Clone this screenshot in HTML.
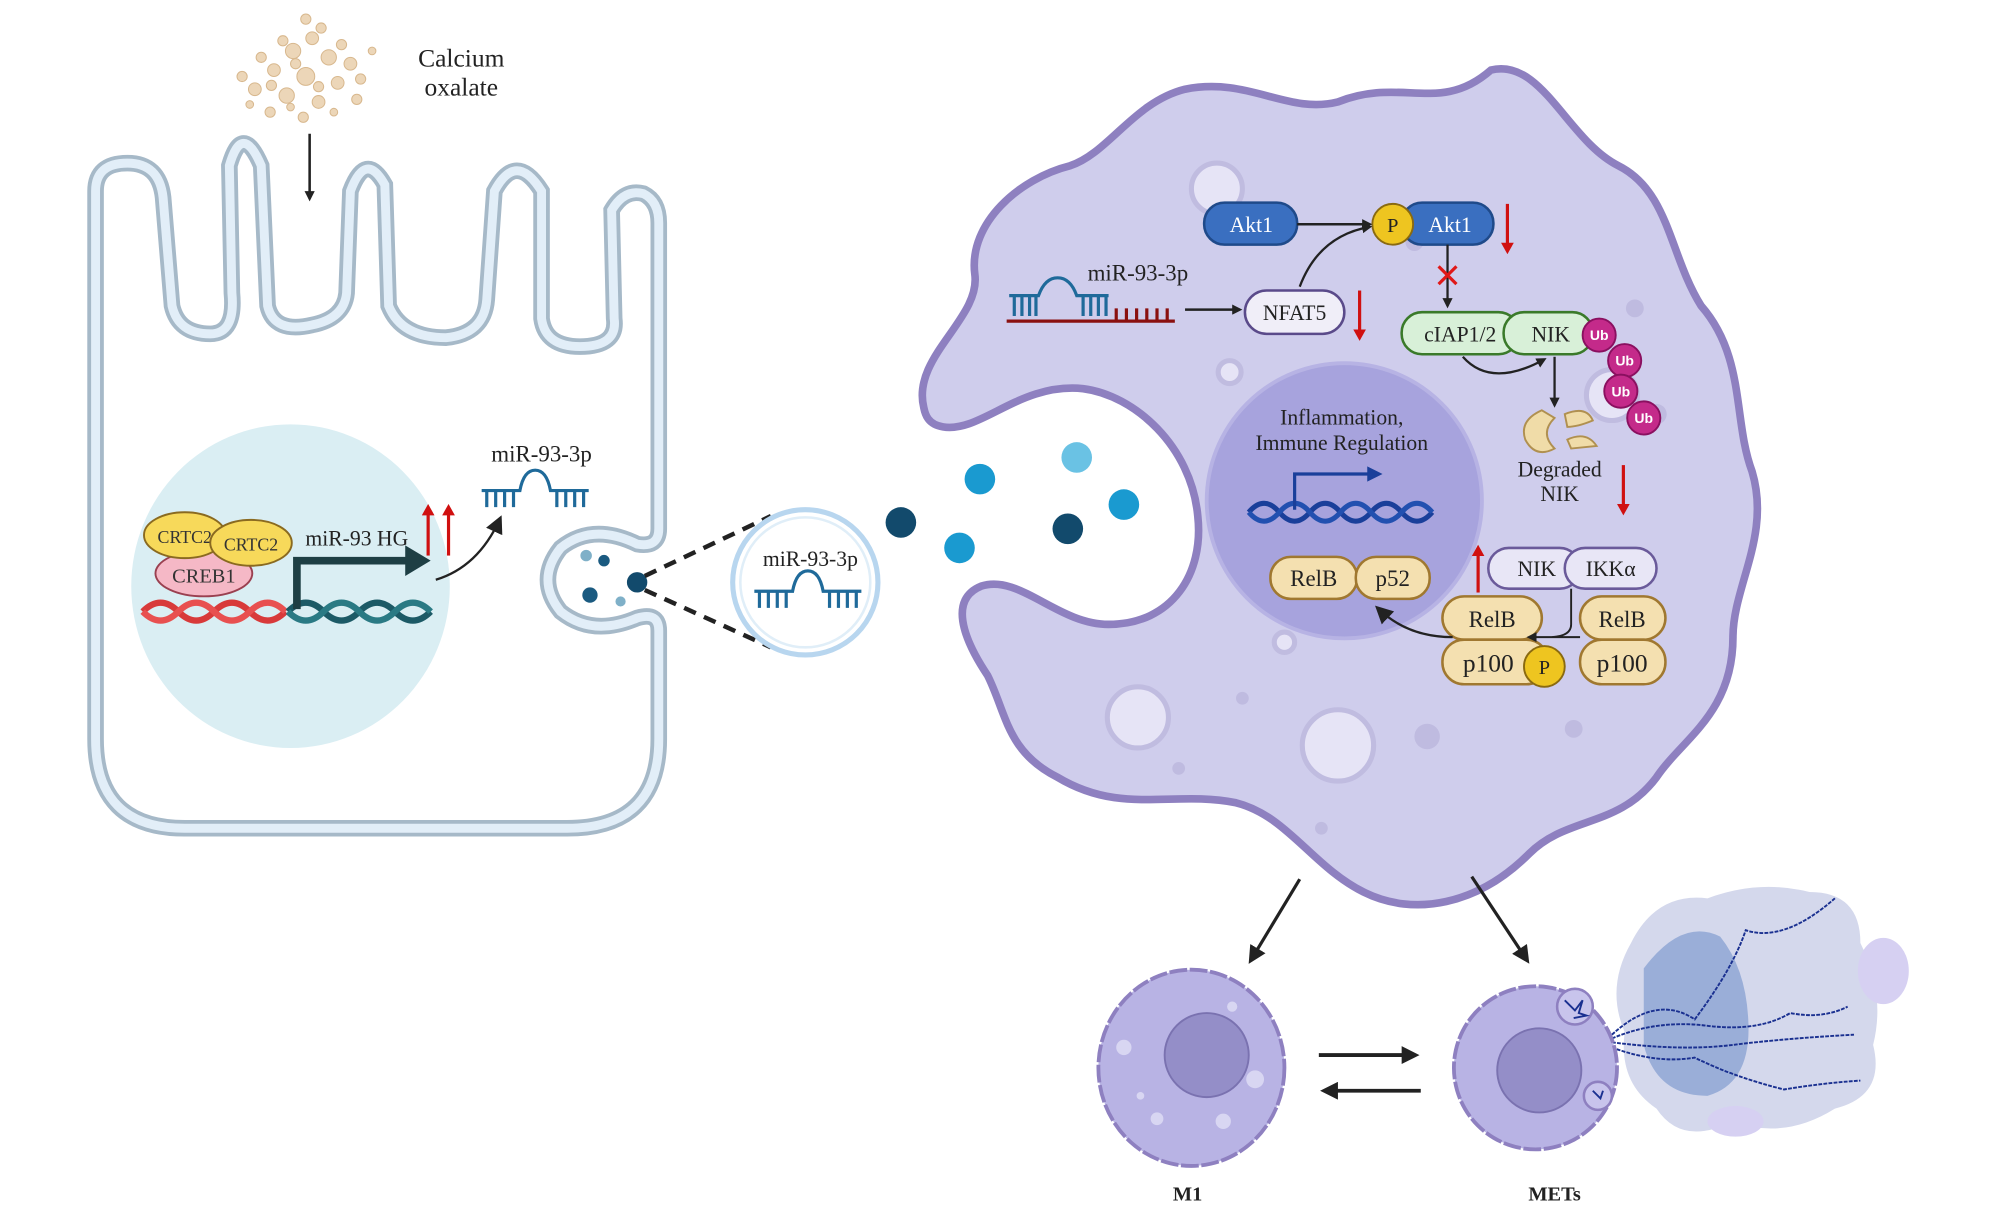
<!DOCTYPE html>
<html><head><meta charset="utf-8"><style>
html,body{margin:0;padding:0;background:#fff;}
svg{display:block;}
text{font-family:"Liberation Serif",serif;}
</style></head><body>
<svg width="1998" height="1222" viewBox="0 0 1568 959" xmlns="http://www.w3.org/2000/svg">
<defs>
<marker id="ah" markerWidth="8" markerHeight="8" refX="6" refY="4" orient="auto" markerUnits="userSpaceOnUse"><path d="M0,0 L8,4 L0,8 Z" fill="#222"/></marker>
<marker id="ahb" markerWidth="14" markerHeight="14" refX="10" refY="7" orient="auto" markerUnits="userSpaceOnUse"><path d="M0,0 L14,7 L0,14 Z" fill="#222"/></marker>
<marker id="ahr" markerWidth="9" markerHeight="10" refX="4.5" refY="5" orient="auto" markerUnits="userSpaceOnUse"><path d="M0,0 L9,5 L0,10 Z" fill="#d01010"/></marker>
<g id="hp" stroke="#1f6a9a" stroke-width="2.5" fill="none">
<path d="M0,0 H30 Q33,-16 42,-16 Q51,-16 54,0 H84"/>
<path d="M4,0 V13 M11,0 V13 M18,0 V13 M25,0 V13 M59,0 V13 M66,0 V13 M73,0 V13 M80,0 V13"/>
</g>
<path id="ep" d="M75,580 L75,150 Q75,128 100,128 Q125,128 128,155 L135,240 Q140,262 165,262 Q185,262 182,230 L180,130 Q190,95 205,130 L210,240 Q215,262 245,255 Q270,250 272,230 L275,150 Q287,118 302,145 L305,240 Q315,265 350,265 Q380,262 382,235 L388,150 Q405,118 425,150 L425,250 Q428,272 455,272 Q485,272 482,250 L480,165 Q490,148 505,152 Q517,158 517,175 L517,415 Q517,430 500,427 Q465,410 440,430 Q420,455 440,480 Q465,500 500,485 Q517,480 517,495 L517,580 Q517,650 445,650 L145,650 Q75,650 75,580 Z"/>
</defs>

<!-- calcium oxalate -->
<g fill="#ecd6b8" stroke="#d8b88e" stroke-width="0.8">
<circle cx="230" cy="40" r="6"/><circle cx="245" cy="30" r="5"/><circle cx="258" cy="45" r="6"/><circle cx="215" cy="55" r="5"/><circle cx="240" cy="60" r="7"/><circle cx="265" cy="65" r="5"/><circle cx="200" cy="70" r="5"/><circle cx="225" cy="75" r="6"/><circle cx="250" cy="80" r="5"/><circle cx="275" cy="50" r="5"/><circle cx="240" cy="15" r="4"/><circle cx="190" cy="60" r="4"/><circle cx="280" cy="78" r="4"/><circle cx="212" cy="88" r="4"/><circle cx="238" cy="92" r="4"/><circle cx="292" cy="40" r="3"/>
<circle cx="222" cy="32" r="4"/><circle cx="252" cy="22" r="4"/><circle cx="268" cy="35" r="4"/><circle cx="205" cy="45" r="4"/><circle cx="232" cy="50" r="4"/><circle cx="250" cy="68" r="4"/><circle cx="213" cy="67" r="4"/><circle cx="262" cy="88" r="3"/><circle cx="196" cy="82" r="3"/><circle cx="283" cy="62" r="4"/><circle cx="228" cy="84" r="3"/>
</g>
<text x="362" y="52" font-size="20" text-anchor="middle" fill="#222">Calcium</text>
<text x="362" y="75" font-size="20" text-anchor="middle" fill="#222">oxalate</text>
<line x1="243" y1="105" x2="243" y2="156" stroke="#222" stroke-width="2" marker-end="url(#ah)"/>

<!-- epithelial cell -->
<use href="#ep" fill="#fff" stroke="#a6b9c8" stroke-width="13"/>
<use href="#ep" fill="none" stroke="#e2eef8" stroke-width="7"/>

<!-- nucleus -->
<ellipse cx="228" cy="460" rx="125" ry="127" fill="#daeef3"/>
<path d="M112,480 q14,-14 28,0 t28,0 t28,0 t28,0" stroke="#d83a3a" stroke-width="5" fill="none"/>
<path d="M112,480 q14,14 28,0 t28,0 t28,0 t28,0" stroke="#e85050" stroke-width="5" fill="none"/>
<path d="M226,480 q14,-14 28,0 t28,0 t28,0 t28,0" stroke="#1c5a66" stroke-width="5" fill="none"/>
<path d="M226,480 q14,14 28,0 t28,0 t28,0 t28,0" stroke="#2a7a84" stroke-width="5" fill="none"/>
<path d="M233,478 V440 H320" stroke="#1e3f44" stroke-width="6" fill="none"/>
<path d="M318,428 L338,440 L318,452 Z" fill="#1e3f44"/>
<ellipse cx="160" cy="450" rx="38" ry="18" fill="#f5b8c6" stroke="#9a4050" stroke-width="1.5"/>
<text x="160" y="457" font-size="16" text-anchor="middle" fill="#333">CREB1</text>
<ellipse cx="145" cy="420" rx="32" ry="18" fill="#f7d95a" stroke="#8a6a20" stroke-width="1.5"/>
<text x="145" y="426" font-size="14" text-anchor="middle" fill="#333">CRTC2</text>
<ellipse cx="197" cy="426" rx="32" ry="18" fill="#f7d95a" stroke="#8a6a20" stroke-width="1.5"/>
<text x="197" y="432" font-size="14" text-anchor="middle" fill="#333">CRTC2</text>
<text x="280" y="428" font-size="17" text-anchor="middle" fill="#222">miR-93 HG</text>
<line x1="336" y1="436" x2="336" y2="400" stroke="#d01010" stroke-width="2.5" marker-end="url(#ahr)"/>
<line x1="352" y1="436" x2="352" y2="400" stroke="#d01010" stroke-width="2.5" marker-end="url(#ahr)"/>
<path d="M342,455 Q375,445 392,408" stroke="#222" stroke-width="1.8" fill="none" marker-end="url(#ahb)"/>
<text x="425" y="362" font-size="18" text-anchor="middle" fill="#222">miR-93-3p</text>
<use href="#hp" x="378" y="385"/>

<!-- bud dots -->
<circle cx="460" cy="436" r="4.5" fill="#7fb0c8"/><circle cx="474" cy="440" r="4.5" fill="#1a5a80"/><circle cx="463" cy="467" r="6" fill="#1a5a80"/><circle cx="487" cy="472" r="4" fill="#7fb0c8"/><circle cx="500" cy="457" r="8" fill="#124a6c"/>
<line x1="506" y1="452" x2="605" y2="405" stroke="#222" stroke-width="3.5" stroke-dasharray="10,7"/>
<line x1="506" y1="463" x2="605" y2="508" stroke="#222" stroke-width="3.5" stroke-dasharray="10,7"/>
<circle cx="632" cy="457" r="57" fill="#fff" stroke="#b8d6ef" stroke-width="4"/>
<circle cx="632" cy="457" r="51" fill="none" stroke="#e0eef8" stroke-width="2"/>
<text x="636" y="444" font-size="17" text-anchor="middle" fill="#222">miR-93-3p</text>
<use href="#hp" x="592" y="464"/>

<!-- macrophage -->
<path d="M725,320 C715,280 770,250 765,215 C760,175 800,140 840,130 C870,120 890,80 930,70 C980,60 1010,90 1050,80 C1100,60 1130,90 1170,55 C1210,45 1230,110 1270,130 C1310,150 1310,200 1335,240 C1370,280 1360,330 1375,370 C1390,420 1360,460 1360,500 C1360,560 1320,580 1300,610 C1270,650 1230,640 1200,670 C1160,710 1110,720 1070,700 C1030,680 1010,640 970,630 C920,620 880,640 830,610 C790,590 790,560 775,530 C755,500 745,470 770,460 C800,450 830,490 870,490 C920,490 945,450 940,405 C935,350 890,310 850,305 C800,300 770,340 740,335 C728,333 726,325 725,320 Z" fill="#cfcdec" stroke="#8e80c0" stroke-width="6"/>
<g fill="#e6e4f6" stroke="#c0bce0" stroke-width="4">
<circle cx="955" cy="148" r="20"/><circle cx="965" cy="292" r="9"/><circle cx="893" cy="563" r="24"/><circle cx="1050" cy="585" r="28"/><circle cx="1008" cy="504" r="8"/><circle cx="1265" cy="310" r="20"/></g>
<g fill="#bfbbe0"><circle cx="1118" cy="378" r="6"/><circle cx="975" cy="548" r="5"/><circle cx="1120" cy="578" r="10"/><circle cx="1235" cy="572" r="7"/><circle cx="1283" cy="242" r="7"/><circle cx="1300" cy="325" r="8"/><circle cx="1037" cy="650" r="5"/><circle cx="925" cy="603" r="5"/><circle cx="1110" cy="190" r="7"/></g>
<!-- outside dots -->
<circle cx="707" cy="410" r="12" fill="#124a6c"/><circle cx="769" cy="376" r="12" fill="#1a9ad0"/><circle cx="845" cy="359" r="12" fill="#6ac2e4"/><circle cx="753" cy="430" r="12" fill="#1a9ad0"/><circle cx="838" cy="415" r="12" fill="#124a6c"/><circle cx="882" cy="396" r="12" fill="#1a9ad0"/>

<!-- macrophage nucleus -->
<circle cx="1055" cy="393" r="108" fill="#a7a3dd" stroke="#b7b3e4" stroke-width="3"/>
<text x="1053" y="333" font-size="17" text-anchor="middle" fill="#222">Inflammation,</text>
<text x="1053" y="353" font-size="17" text-anchor="middle" fill="#222">Immune Regulation</text>
<path d="M980,402 q12,-14 24,0 t24,0 t24,0 t24,0 t24,0 t24,0" stroke="#1a3f9a" stroke-width="4" fill="none"/>
<path d="M980,402 q12,14 24,0 t24,0 t24,0 t24,0 t24,0 t24,0" stroke="#2250b0" stroke-width="4" fill="none"/>
<path d="M1016,400 V372 H1075" stroke="#1a3f9a" stroke-width="2.5" fill="none"/><path d="M1073,366 L1085,372 L1073,378 Z" fill="#1a3f9a"/>
<g stroke="#a07830" stroke-width="2" fill="#f4e0b0">
<rect x="997" y="437" width="68" height="33" rx="16"/><rect x="1064" y="437" width="58" height="33" rx="16"/>
<rect x="1132" y="468" width="78" height="34" rx="17"/><rect x="1132" y="502" width="83" height="35" rx="17"/>
<rect x="1240" y="468" width="67" height="34" rx="17"/><rect x="1240" y="502" width="67" height="35" rx="17"/></g>
<text x="1031" y="460" font-size="18" text-anchor="middle" fill="#222">RelB</text>
<text x="1093" y="460" font-size="18" text-anchor="middle" fill="#222">p52</text>
<text x="1171" y="492" font-size="18" text-anchor="middle" fill="#222">RelB</text>
<text x="1168" y="527" font-size="20" text-anchor="middle" fill="#222">p100</text>
<text x="1273" y="492" font-size="18" text-anchor="middle" fill="#222">RelB</text>
<text x="1273" y="527" font-size="20" text-anchor="middle" fill="#222">p100</text>
<circle cx="1212" cy="523" r="16" fill="#eec520" stroke="#8a6a10" stroke-width="1.5"/>
<text x="1212" y="529" font-size="16" text-anchor="middle" fill="#222">P</text>
<g stroke="#6a5a9a" stroke-width="2" fill="#e8e6f6">
<rect x="1168" y="430" width="72" height="32" rx="16"/><rect x="1228" y="430" width="72" height="32" rx="16"/></g>
<text x="1206" y="452" font-size="17" text-anchor="middle" fill="#222">NIK</text>
<text x="1264" y="452" font-size="17" text-anchor="middle" fill="#222">IKKα</text>
<line x1="1160" y1="465" x2="1160" y2="432" stroke="#d01010" stroke-width="2.5" marker-end="url(#ahr)"/>
<path d="M1233,462 V490 Q1233,500 1215,500 M1240,500 H1200" stroke="#222" stroke-width="1.5" fill="none" marker-end="url(#ah)"/>
<path d="M1140,500 Q1105,500 1082,478" stroke="#222" stroke-width="1.8" fill="none" marker-end="url(#ahb)"/>

<!-- top pathway -->
<rect x="945" y="159" width="73" height="33" rx="16" fill="#3a6fc0" stroke="#1f4a8a" stroke-width="2"/>
<text x="982" y="182" font-size="17" text-anchor="middle" fill="#fff">Akt1</text>
<rect x="1100" y="159" width="72" height="33" rx="16" fill="#3a6fc0" stroke="#1f4a8a" stroke-width="2"/>
<text x="1138" y="182" font-size="17" text-anchor="middle" fill="#fff">Akt1</text>
<circle cx="1093" cy="176" r="16" fill="#eec520" stroke="#8a6a10" stroke-width="1.5"/>
<text x="1093" y="182" font-size="16" text-anchor="middle" fill="#222">P</text>
<line x1="1018" y1="176" x2="1075" y2="176" stroke="#222" stroke-width="2" marker-end="url(#ah)"/>
<path d="M1020,225 Q1035,185 1075,178" stroke="#222" stroke-width="1.8" fill="none" marker-end="url(#ah)"/>
<line x1="1183" y1="160" x2="1183" y2="195" stroke="#d01010" stroke-width="2.5" marker-end="url(#ahr)"/>
<text x="893" y="220" font-size="18" text-anchor="middle" fill="#222">miR-93-3p</text>
<g stroke="#1f6a9a" stroke-width="2.5" fill="none"><path d="M792,232 H815 Q820,218 830,218 Q840,218 845,232 H870 M796,232 V248 M802,232 V248 M808,232 V248 M813,232 V248 M850,232 V248 M856,232 V248 M862,232 V248 M868,232 V248"/></g>
<g stroke="#8a1010" stroke-width="2.5" fill="none"><path d="M790,252 H922 M876,252 V242 M884,252 V242 M892,252 V242 M900,252 V242 M908,252 V242 M916,252 V242"/></g>
<line x1="930" y1="243" x2="973" y2="243" stroke="#222" stroke-width="2" marker-end="url(#ah)"/>
<rect x="977" y="228" width="78" height="34" rx="17" fill="#f0eef8" stroke="#5a4a8a" stroke-width="2"/>
<text x="1016" y="251" font-size="17" text-anchor="middle" fill="#222">NFAT5</text>
<line x1="1067" y1="228" x2="1067" y2="263" stroke="#d01010" stroke-width="2.5" marker-end="url(#ahr)"/>
<line x1="1136" y1="192" x2="1136" y2="240" stroke="#222" stroke-width="1.8" marker-end="url(#ah)"/>
<path d="M1129,209 L1143,223 M1143,209 L1129,223" stroke="#e01818" stroke-width="2.5"/>
<rect x="1100" y="245" width="92" height="33" rx="16" fill="#d8f0d8" stroke="#3a7a2a" stroke-width="2"/>
<rect x="1180" y="245" width="70" height="33" rx="16" fill="#d8f0d8" stroke="#3a7a2a" stroke-width="2"/>
<text x="1146" y="268" font-size="17" text-anchor="middle" fill="#222">cIAP1/2</text>
<text x="1217" y="268" font-size="17" text-anchor="middle" fill="#222">NIK</text>
<path d="M1148,280 Q1170,305 1212,282" stroke="#222" stroke-width="1.8" fill="none" marker-end="url(#ah)"/>
<line x1="1220" y1="280" x2="1220" y2="318" stroke="#222" stroke-width="1.8" marker-end="url(#ah)"/>
<g fill="#c42a8a" stroke="#8a1060" stroke-width="1.5">
<circle cx="1255" cy="263" r="13"/><circle cx="1275" cy="283" r="13"/><circle cx="1272" cy="307" r="13"/><circle cx="1290" cy="328" r="13"/></g>
<g font-size="11" font-weight="bold" fill="#fff" text-anchor="middle">
<text x="1255" y="267" style="font-family:'Liberation Sans',sans-serif">Ub</text><text x="1275" y="287" style="font-family:'Liberation Sans',sans-serif">Ub</text><text x="1272" y="311" style="font-family:'Liberation Sans',sans-serif">Ub</text><text x="1290" y="332" style="font-family:'Liberation Sans',sans-serif">Ub</text></g>
<path d="M1210,322 Q1192,330 1197,345 Q1205,360 1220,352 Q1208,340 1220,328 Z" fill="#f0dca8" stroke="#b09050" stroke-width="1.5"/>
<path d="M1228,325 Q1245,318 1250,330 Q1238,335 1230,335 Z M1230,345 Q1245,338 1253,350 L1233,352 Z" fill="#f0dca8" stroke="#b09050" stroke-width="1.5"/>
<text x="1224" y="374" font-size="17" text-anchor="middle" fill="#222">Degraded</text>
<text x="1224" y="393" font-size="17" text-anchor="middle" fill="#222">NIK</text>
<line x1="1274" y1="365" x2="1274" y2="400" stroke="#d01010" stroke-width="2.5" marker-end="url(#ahr)"/>

<!-- bottom arrows -->
<line x1="1020" y1="690" x2="982" y2="753" stroke="#222" stroke-width="2.5" marker-end="url(#ahb)"/>
<line x1="1155" y1="688" x2="1198" y2="753" stroke="#222" stroke-width="2.5" marker-end="url(#ahb)"/>
<line x1="1035" y1="828" x2="1110" y2="828" stroke="#222" stroke-width="3" marker-end="url(#ahb)"/>
<line x1="1115" y1="856" x2="1040" y2="856" stroke="#222" stroke-width="3" marker-end="url(#ahb)"/>

<!-- NETs cloud -->
<path d="M1280,740 Q1300,700 1340,705 Q1380,690 1420,700 Q1460,700 1460,740 Q1480,780 1470,820 Q1480,860 1440,870 Q1400,895 1360,880 Q1320,900 1300,870 Q1270,850 1275,810 Q1260,775 1280,740 Z" fill="#d4d8ec"/>
<path d="M1290,760 Q1320,720 1350,735 Q1370,760 1372,800 Q1375,850 1340,860 Q1300,860 1290,820 Z" fill="#9aaed8"/>
<ellipse cx="1478" cy="762" rx="20" ry="26" fill="#d6d0f2"/>
<ellipse cx="1362" cy="880" rx="22" ry="12" fill="#d6d0f2"/>
<g stroke="#1a3090" stroke-width="1.5" fill="none" stroke-dasharray="3,1">
<path d="M1265,812 Q1300,780 1330,800 Q1360,760 1370,730 Q1400,740 1440,705"/>
<path d="M1265,815 Q1300,800 1340,805 Q1380,810 1405,795 Q1430,800 1450,790"/>
<path d="M1265,818 Q1320,825 1360,820 Q1400,815 1455,812"/>
<path d="M1265,822 Q1300,835 1330,830 Q1360,845 1400,855 Q1430,850 1460,848"/>
</g>

<!-- M1 cell -->
<ellipse cx="935" cy="838" rx="73" ry="77" fill="#b8b3e4" stroke="#8e80c0" stroke-width="3" stroke-dasharray="14,2"/>
<circle cx="947" cy="828" r="33" fill="#948ec8" stroke="#7a72b0" stroke-width="1.5"/>
<g fill="#d8d6f2"><circle cx="882" cy="822" r="6"/><circle cx="967" cy="790" r="4"/><circle cx="985" cy="847" r="7"/><circle cx="908" cy="878" r="5"/><circle cx="960" cy="880" r="6"/><circle cx="895" cy="860" r="3"/></g>
<text x="932" y="942" font-size="16" font-weight="bold" text-anchor="middle" fill="#222">M1</text>
<!-- METs cell -->
<circle cx="1205" cy="838" r="64" fill="#b8b3e4" stroke="#8e80c0" stroke-width="3" stroke-dasharray="14,2"/>
<circle cx="1208" cy="840" r="33" fill="#948ec8" stroke="#7a72b0" stroke-width="1.5"/>
<circle cx="1236" cy="790" r="14" fill="#c8c4ec" stroke="#8e80c0" stroke-width="2"/>
<circle cx="1254" cy="860" r="11" fill="#c8c4ec" stroke="#8e80c0" stroke-width="2"/>
<path d="M1228,785 l8,8 l6,-8 l-3,10 l6,2 l-10,2 M1250,856 l6,6 l2,-6" stroke="#1a3090" stroke-width="1.5" fill="none"/>
<text x="1220" y="942" font-size="16" font-weight="bold" text-anchor="middle" fill="#222">METs</text>
</svg>
</body></html>
